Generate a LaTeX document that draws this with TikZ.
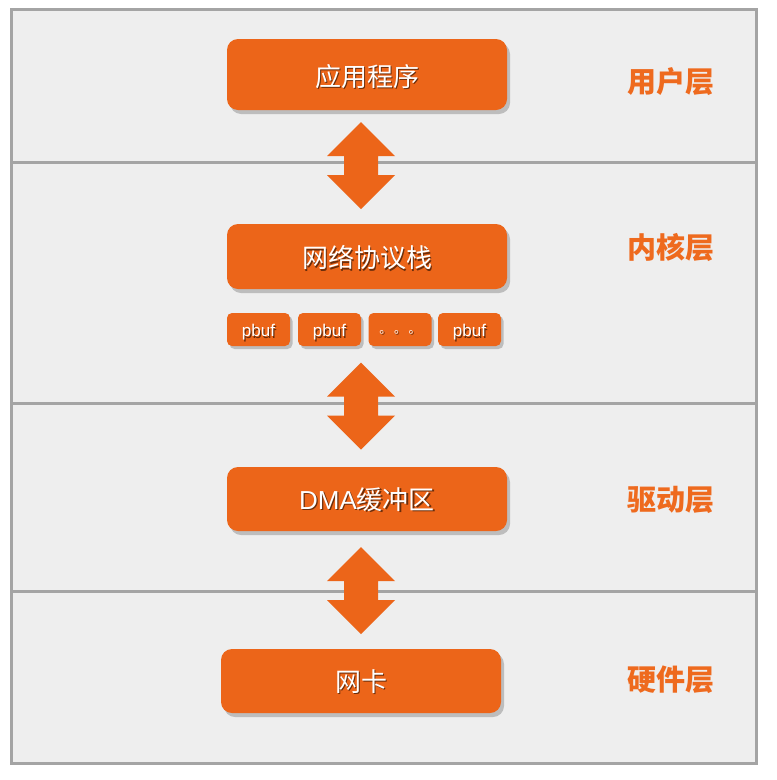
\documentclass[tikz,border=0pt]{standalone}
\usepackage{fontspec}
\setmainfont{Noto Sans CJK SC}
\newfontfamily\cjkfont{Noto Sans CJK SC}
\newfontfamily\latinsans{Liberation Sans}
\usetikzlibrary{shadows}
\definecolor{boxorange}{HTML}{EC6519}
\definecolor{labelorange}{HTML}{EE6A1E}
\definecolor{framegray}{HTML}{A4A4A4}
\definecolor{bggray}{HTML}{EEEEEE}
\tikzset{
  bigbox/.style={fill=boxorange, rounded corners=11pt, minimum width=280pt,
    text=white, font=\fontsize{26}{30}\selectfont, inner sep=0pt,
    drop shadow={shadow xshift=3pt, shadow yshift=-4pt, opacity=0.3, fill=black!70}},
  smallbox/.style={fill=boxorange, rounded corners=5pt, minimum width=63pt, minimum height=33pt,
    text=white, font=\latinsans\fontsize{17}{20}\selectfont, inner sep=0pt,
    drop shadow={shadow xshift=2.5pt, shadow yshift=-3pt, opacity=0.3, fill=black!70}},
  layerlabel/.style={text=labelorange, font=\bfseries\fontsize{29}{32}\selectfont},
  divider/.style={draw=framegray, line width=3pt},
  blockarrow/.style={fill=boxorange}
}
\newcommand{\dblblockarrow}[3]{% name, x, top y
  \fill[blockarrow] (#2,#3) -- (#2+34,#3+34) -- (#2+17,#3+34) -- (#2+17,#3+53)
    -- (#2+34,#3+53) -- (#2,#3+87) -- (#2-34,#3+53) -- (#2-17,#3+53)
    -- (#2-17,#3+34) -- (#2-34,#3+34) -- cycle;
  \coordinate (#1) at (#2,#3+43.5);
}
\newcommand{\shadowtext}[2][2pt]{\raisebox{-#1}[\height][\depth]{\rlap{\hspace{1.2pt}\raisebox{-1.2pt}{\textcolor{boxorange!45!black}{#2}}}#2}}
\begin{document}
\begin{tikzpicture}[x=1pt,y=-1pt]
\useasboundingbox (0,0) rectangle (777,780);
\fill[white] (0,0) rectangle (777,780);
\fill[bggray] (11,9) rectangle (756,763);
% dividers
\draw[divider] (11,162) -- (756,162);
\draw[divider] (11,403) -- (756,403);
\draw[divider] (11,591) -- (756,591);
\draw[draw=framegray, line width=3pt] (11,9) rectangle (756,763);
% boxes
\node[bigbox, minimum height=71pt] (app) at (367,74.5) {\shadowtext[2.5pt]{应用程序}};
\node[bigbox, minimum height=65pt] (stack) at (367,256.5) {\shadowtext[2pt]{网络协议栈}};
\node[smallbox] (p1) at (258.5,329.5) {\shadowtext[3.5pt]{pbuf}};
\node[smallbox] (p2) at (329.5,329.5) {\shadowtext[3.5pt]{pbuf}};
\node[smallbox] (p3) at (400,329.5) {\shadowtext[3pt]{\cjkfont\fontsize{12}{14}\selectfont 。 。 。}};
\node[smallbox] (p4) at (469.5,329.5) {\shadowtext[3.5pt]{pbuf}};
\node[bigbox, minimum height=64pt] (dma) at (367,499) {\shadowtext[1.5pt]{{\latinsans DMA}缓冲区}};
\node[bigbox, minimum height=64pt] (nic) at (361,681) {\shadowtext[1.5pt]{网卡}};
% arrows
\dblblockarrow{a1}{361}{122}
\dblblockarrow{a2}{361}{362.5}
\dblblockarrow{a3}{361}{547}
% labels
\node[layerlabel] (l1) at (671,82) {用户层};
\node[layerlabel] (l2) at (671,247) {内核层};
\node[layerlabel] (l3) at (671,500) {驱动层};
\node[layerlabel] (l4) at (671,680) {硬件层};
\end{tikzpicture}
\end{document}
